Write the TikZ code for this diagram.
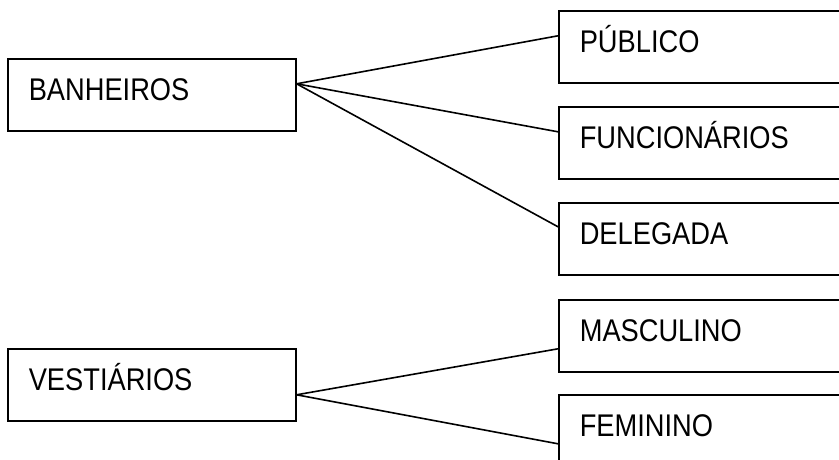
\documentclass[tikz,border=0pt]{standalone}
\usepackage{fontspec}
\setmainfont{Liberation Sans}[FakeStretch=0.87]
\usetikzlibrary{calc,positioning}

\begin{document}
\begin{tikzpicture}[x=0.75pt, y=-0.75pt, line width=1.2pt,
    box/.style={draw, anchor=north west, align=left, inner xsep=15.75pt,
                inner ysep=0pt, text height=31.5pt, text depth=22.5pt,
                font=\fontsize{23.5pt}{27pt}\selectfont},
    leftbox/.style={box, text width=184.5pt},
    rightbox/.style={box, text width=195pt}]
  \useasboundingbox (0,0) rectangle (839,460);
  \clip (0,0) rectangle (839,460);
  \node [leftbox] (banh) at (7,58) {BANHEIROS};
  \node [leftbox] (vest) at (7,348) {VESTIÁRIOS};
  \node [rightbox] (pub) at (558,10) {PÚBLICO};
  \node [rightbox] (func) at (558,106) {FUNCIONÁRIOS};
  \node [rightbox] (deleg) at (558,202) {DELEGADA};
  \node [rightbox] (masc) at (558,299) {MASCULINO};
  \node [rightbox] (fem) at (558,394) {FEMININO};
  \coordinate (b) at ($(banh.east)+(0,-11)$);
  \coordinate (v) at ($(vest.east)+(0,10)$);
  \draw (b) -- ($(pub.west)+(0,-11)$);
  \draw (b) -- ($(func.west)+(0,-11)$);
  \draw (b) -- ($(deleg.west)+(0,-12)$);
  \draw (v) -- ($(masc.west)+(0,13)$);
  \draw (v) -- ($(fem.west)+(0,13)$);
\end{tikzpicture}
\end{document}
